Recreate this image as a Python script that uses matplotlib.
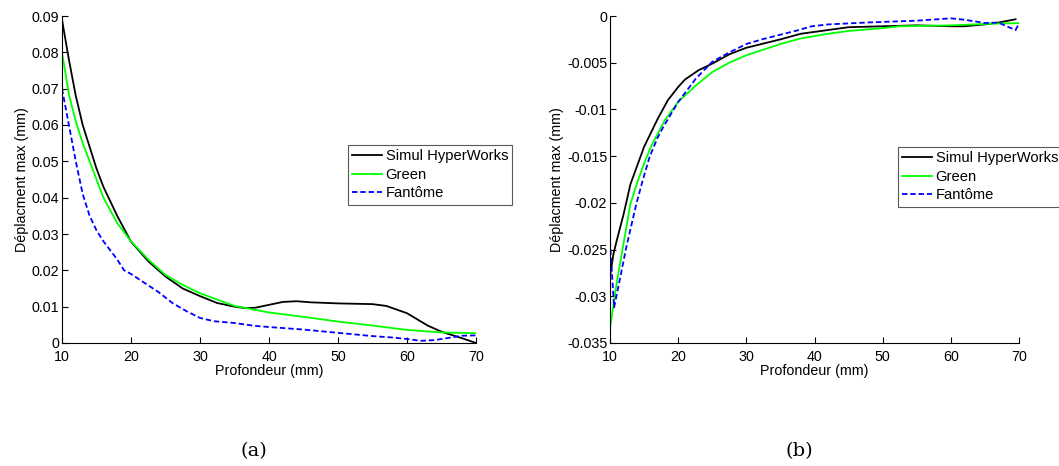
"""Deplacement max vs profondeur: HyperWorks simulation, Green model, phantom."""

import matplotlib

matplotlib.use("Agg")
import matplotlib.pyplot as plt
from matplotlib.ticker import FuncFormatter

plt.rcParams["font.family"] = ["Liberation Sans", "DejaVu Sans"]
plt.rcParams["axes.unicode_minus"] = False

LABELS = ["Simul HyperWorks", "Green", "Fantôme"]

# (a) positive displacement
a_sim_x = [10, 11, 12, 13, 14, 15, 16, 18, 20, 22.5, 25, 27.5, 30, 32.5, 35, 36.5,
           38, 40, 42, 44, 46, 50, 55, 57, 60, 63, 65, 68, 70]
a_sim_y = [0.089, 0.078, 0.068, 0.060, 0.054, 0.048, 0.043, 0.035, 0.0279, 0.0225,
           0.0183, 0.0150, 0.0129, 0.0110, 0.0100, 0.0096, 0.0097, 0.0105, 0.0113,
           0.0115, 0.0112, 0.0109, 0.0107, 0.0102, 0.0082, 0.0048, 0.0031, 0.0013, 0.0]
a_green_x = [10, 11, 12, 13, 14, 16, 18, 20, 22.5, 25, 27.5, 30, 35, 40, 45, 50, 55,
             60, 65, 70]
a_green_y = [0.080, 0.0685, 0.061, 0.055, 0.050, 0.040, 0.033, 0.028, 0.023, 0.0187,
             0.0160, 0.0137, 0.0102, 0.0084, 0.0072, 0.0059, 0.0048, 0.0036, 0.0029,
             0.0027]
a_fant_x = [10, 11, 12, 13, 14, 15, 16, 18, 19, 20, 22, 24, 25, 26, 28, 30, 32, 35,
            38, 40, 45, 50, 55, 58, 60, 62, 64, 66, 68, 70]
a_fant_y = [0.070, 0.060, 0.050, 0.041, 0.035, 0.031, 0.028, 0.023, 0.020, 0.019,
            0.0165, 0.0140, 0.0125, 0.0110, 0.0088, 0.0069, 0.0060, 0.0055, 0.0047,
            0.0044, 0.0037, 0.0028, 0.0019, 0.0015, 0.0011, 0.0006, 0.0008, 0.0014,
            0.0020, 0.0021]

# (b) negative displacement
b_sim_x = [10, 10.5, 11, 12, 13, 14, 15, 16, 17, 18.5, 20, 21, 23, 25, 27.5, 30, 35,
           38, 42, 45, 50, 55, 60, 62, 65, 67, 69.5]
b_sim_y = [-0.0279, -0.0255, -0.0240, -0.0212, -0.0180, -0.0160, -0.0140, -0.0125,
           -0.0110, -0.0090, -0.0076, -0.0068, -0.0058, -0.0051, -0.0041, -0.0034,
           -0.0025, -0.0019, -0.0015, -0.0012, -0.0011, -0.0010, -0.0011, -0.0011,
           -0.0009, -0.0007, -0.00035]
b_green_x = [10, 11, 12, 13, 14, 15, 16, 17, 18, 20, 22.5, 25, 27.5, 30, 35, 38, 42,
             45, 50, 52.5, 60, 67, 70]
b_green_y = [-0.0334, -0.0285, -0.0243, -0.0201, -0.0178, -0.0158, -0.0140, -0.0126,
             -0.0112, -0.0092, -0.0075, -0.0060, -0.0050, -0.0042, -0.0030, -0.0024,
             -0.0019, -0.0016, -0.0013, -0.0011, -0.0010, -0.0008, -0.00077]
b_fant_x = [10, 10.6, 11.5, 12.4, 13.9, 14.8, 15.8, 17, 17.8, 20, 22.6, 25, 27.5, 30,
            32.3, 35, 37.2, 39.6, 42, 47.6, 55, 60, 62, 65, 67, 68.5, 69.5, 70]
b_fant_y = [-0.0241, -0.0312, -0.0280, -0.0247, -0.0200, -0.0176, -0.0151, -0.0130,
            -0.0119, -0.0092, -0.0067, -0.0049, -0.0039, -0.0030, -0.0025, -0.0020,
            -0.0016, -0.0011, -0.0009, -0.0007, -0.0005, -0.00025, -0.0004, -0.00075,
            -0.0007, -0.0012, -0.0015, -0.0008]

a_yticks = [0, 0.01, 0.02, 0.03, 0.04, 0.05, 0.06, 0.07, 0.08, 0.09]
b_yticks = [-0.035, -0.03, -0.025, -0.02, -0.015, -0.01, -0.005, 0]
xticks = [10, 20, 30, 40, 50, 60, 70]


def style_axis(ax, yticks, ylim):
    ax.set_xlim(10, 70)
    ax.set_ylim(*ylim)
    ax.set_xticks(xticks)
    ax.set_yticks(yticks)
    ax.yaxis.set_major_formatter(FuncFormatter(lambda v, _: f"{v:g}"))
    ax.spines["top"].set_visible(False)
    ax.spines["right"].set_visible(False)
    ax.tick_params(direction="in", length=4, width=0.8, labelsize=10.3)
    ax.tick_params(axis="y", pad=2)
    ax.tick_params(axis="x", pad=5)
    ax.set_xlabel("Profondeur (mm)", fontsize=10.3, labelpad=0)
    ax.set_ylabel("Déplacment max (mm)", fontsize=10.3, labelpad=2)


def draw(ax, sim, green, fant):
    ax.plot(*sim, color="black", lw=1.3, label=LABELS[0])
    ax.plot(*green, color="#00ff00", lw=1.3, label=LABELS[1])
    ax.plot(*fant, color="#0000ff", lw=1.3, ls=(0, (3, 1.6)), label=LABELS[2])


def main() -> None:
    fig = plt.figure(figsize=(10.59, 4.66), dpi=100)
    ax_a = fig.add_axes([62 / 1059, 123 / 466, 414 / 1059, 327 / 466])
    ax_b = fig.add_axes([610 / 1059, 123 / 466, 409 / 1059, 327 / 466])

    draw(ax_a, (a_sim_x, a_sim_y), (a_green_x, a_green_y), (a_fant_x, a_fant_y))
    draw(ax_b, (b_sim_x, b_sim_y), (b_green_x, b_green_y), (b_fant_x, b_fant_y))
    style_axis(ax_a, a_yticks, (0, 0.09))
    style_axis(ax_b, b_yticks, (-0.035, 0))

    for ax, x0, y0 in [(ax_a, 348, 145), (ax_b, 898, 147)]:
        leg = ax.legend(loc="upper left", bbox_to_anchor=(x0 / 1059, 1 - y0 / 466),
                        bbox_transform=fig.transFigure, fontsize=10.6,
                        fancybox=False, framealpha=1, edgecolor="0.35",
                        handlelength=2.0, handletextpad=0.25, labelspacing=0.3,
                        borderpad=0.3, borderaxespad=0)
        leg.get_frame().set_linewidth(0.8)

    fig.text(254 / 1059, 1 - 451 / 466, "(a)", family="DejaVu Serif", fontsize=14,
             ha="center", va="center")
    fig.text(799 / 1059, 1 - 451 / 466, "(b)", family="DejaVu Serif", fontsize=14,
             ha="center", va="center")

    fig.savefig("out.png", dpi=100)
    plt.close(fig)


if __name__ == "__main__":
    main()
